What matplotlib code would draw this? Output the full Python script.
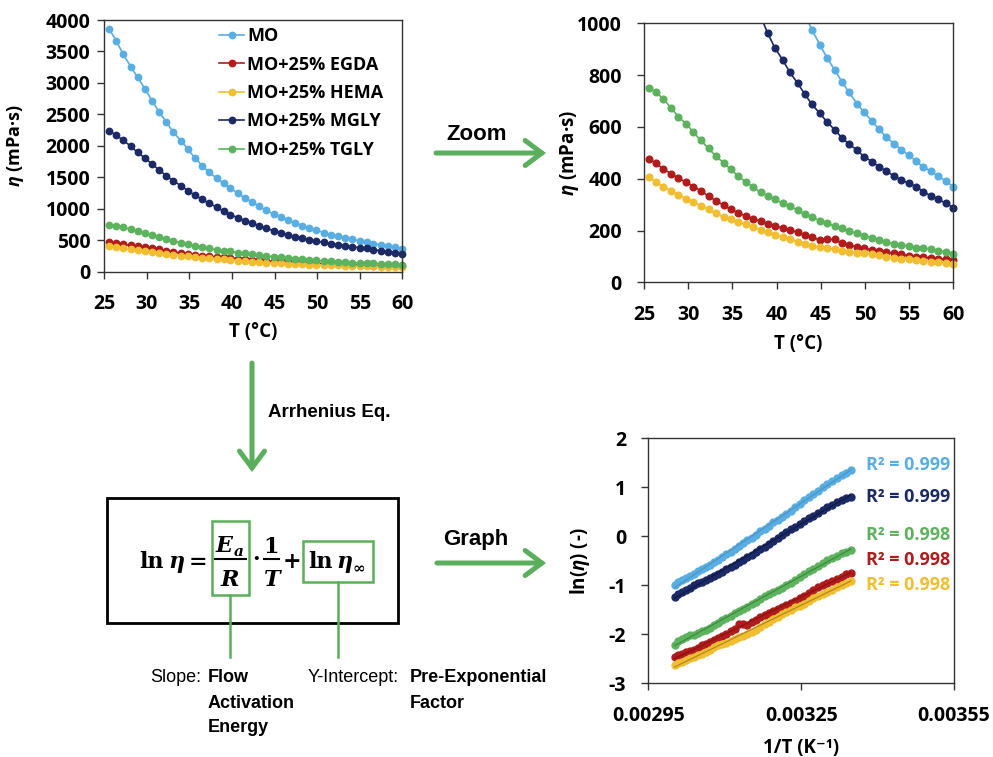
import numpy as np
import matplotlib.pyplot as plt
from matplotlib.patches import Rectangle, FancyArrowPatch
from matplotlib.lines import Line2D

plt.rcParams["font.family"] = ["Open Sans", "DejaVu Sans"]
plt.rcParams["font.weight"] = "bold"
plt.rcParams["axes.labelweight"] = "bold"
plt.rcParams["axes.unicode_minus"] = False
plt.rcParams["mathtext.fontset"] = "custom"
plt.rcParams["mathtext.it"] = "Open Sans:italic:bold"
plt.rcParams["mathtext.rm"] = "Open Sans:bold"

W, H = 993, 757

# temperature (°C) and viscosity (mPa·s)
temp_c = [25.6, 26.4, 27.2, 28.1, 28.9, 29.8, 30.6, 31.4, 32.3, 33.1,
          34.0, 34.8, 35.6, 36.5, 37.3, 38.2, 39.0, 39.8, 40.7, 41.5,
          42.4, 43.2, 44.0, 44.9, 45.7, 46.6, 47.4, 48.2, 49.1, 49.9,
          50.8, 51.6, 52.4, 53.3, 54.1, 55.0, 55.8, 56.6, 57.5, 58.3,
          59.2, 60.0]
mo = [3854, 3668, 3461, 3259, 3091, 2900, 2719, 2544, 2375, 2216,
      2083, 1951, 1812, 1685, 1580, 1485, 1405, 1326, 1246, 1172,
      1103, 1037, 974, 918, 867, 819, 774, 733, 690, 656,
      622, 590, 561, 535, 512, 490, 467, 445, 429, 409,
      391, 368]
egda = [475, 459, 437, 419, 401, 386, 369, 354, 333, 315,
        298, 282, 269, 256, 246, 236, 226, 217, 209, 202,
        193, 183, 174, 163, 166, 166, 150, 144, 137, 131,
        125, 121, 116, 112, 108, 103, 99, 97, 94, 90,
        89, 85]
hema = [405, 386, 369, 354, 337, 323, 309, 296, 282, 266,
        253, 243, 234, 224, 213, 203, 194, 184, 175, 166,
        157, 148, 141, 135, 131, 129, 122, 118, 114, 112,
        108, 104, 99, 95, 91, 89, 86, 83, 80, 77,
        76, 72]
mgly = [2236, 2170, 2090, 1995, 1895, 1805, 1710, 1620, 1523, 1444,
        1367, 1287, 1219, 1150, 1086, 1028, 961, 906, 858, 811,
        768, 726, 687, 652, 620, 588, 558, 533, 511, 485,
        466, 446, 430, 410, 395, 382, 369, 350, 333, 320,
        305, 288]
tgly = [749, 733, 707, 672, 639, 611, 579, 549, 517, 488,
        462, 436, 412, 388, 369, 347, 333, 322, 305, 294,
        279, 262, 251, 238, 228, 217, 208, 198, 189, 180,
        172, 163, 154, 148, 145, 140, 134, 134, 127, 122,
        118, 109]

series_names = ["MO", "MO+25% EGDA", "MO+25% HEMA", "MO+25% MGLY", "MO+25% TGLY"]
series_values = [mo, egda, hema, mgly, tgly]
series_colors = ["#58aee2", "#b01b1b", "#f1bd31", "#1b2a66", "#5cb25d"]
trend_colors = ["#4a95c4", "#8c1212", "#b08a1c", "#101a45", "#3f8a40"]

# R² labels in the order they are stacked on the graph
r2_order = [0, 3, 4, 1, 2]
r2_labels = ["R² = 0.999", "R² = 0.999", "R² = 0.998", "R² = 0.998", "R² = 0.998"]

inv_ticks = [0.00295, 0.00325, 0.00355]
inv_ticklabels = ["0.00295", "0.00325", "0.00355"]

GREEN = "#5bae5b"
EDGE = "#333333"

fig = plt.figure(figsize=(W / 100, H / 100), dpi=100)


def px_axes(x0, y0, x1, y1):
    return fig.add_axes([x0 / W, 1 - y1 / H, (x1 - x0) / W, (y1 - y0) / H])


def ftext(x, y, s, **kw):
    return fig.text(x / W, 1 - y / H, s, **kw)


def fpt(x, y):
    return (x / W, 1 - y / H)


def style(ax, ypad, xpad=11):
    for s in ax.spines.values():
        s.set_color(EDGE)
        s.set_linewidth(1.0)
    ax.tick_params(direction="out", length=5, width=1, color=EDGE, labelsize=14)
    ax.tick_params(axis="y", pad=ypad)
    ax.tick_params(axis="x", pad=xpad)


t = np.array(temp_c)

# ---- top-left: full range
ax1 = px_axes(104.3, 20, 402.3, 271.7)
for name, vals, col in zip(series_names, series_values, series_colors):
    ax1.plot(t, vals, "-o", color=col, lw=1.2, ms=4.6, label=name, clip_on=False)
ax1.set_xlim(25, 60)
ax1.set_ylim(0, 4000)
ax1.set_xticks(range(25, 61, 5))
ax1.set_yticks(range(0, 4001, 500))
style(ax1, ypad=5)
ax1.set_xlabel("T (°C)", fontsize=13.5)
ax1.set_ylabel(r"$\eta$ (mPa·s)", fontsize=13)
ax1.xaxis.set_label_coords(0.5, -0.20)
ax1.yaxis.set_label_coords(-0.262, 0.5)
ax1.legend(loc="upper left", bbox_to_anchor=(0.385, 0.972), frameon=False,
           fontsize=13, handlelength=1.4, handletextpad=0.15, labelspacing=0.58,
           borderpad=0, borderaxespad=0)

# ---- top-right: zoomed
ax2 = px_axes(644, 23.3, 953.3, 282.3)
clip = Rectangle((-0.05, -0.05), 1.1, 1.05, transform=ax2.transAxes, visible=False)
ax2.add_patch(clip)
for vals, col in zip(series_values, series_colors):
    ln, = ax2.plot(t, vals, "-o", color=col, lw=1.2, ms=4.8)
    ln.set_clip_path(clip)
ax2.set_xlim(25, 60)
ax2.set_ylim(0, 1000)
ax2.set_xticks(range(25, 61, 5))
ax2.set_yticks(range(0, 1001, 200))
style(ax2, ypad=11)
ax2.set_xlabel("T (°C)", fontsize=13.5)
ax2.set_ylabel(r"$\eta$ (mPa·s)", fontsize=13.5)
ax2.xaxis.set_label_coords(0.5, -0.20)
ax2.yaxis.set_label_coords(-0.205, 0.5)

# ---- bottom-right: Arrhenius plot
ax3 = px_axes(648.3, 438.3, 954, 683.3)
inv_t = 1.0 / (t + 273.15)
for vals, col, tcol in zip(series_values, series_colors, trend_colors):
    ln_eta = np.log(np.array(vals) / 1000.0)
    ax3.plot(inv_t, ln_eta, "o", color=col, ms=5)
    k, b = np.polyfit(inv_t, ln_eta, 1)
    ax3.plot(inv_t, k * inv_t + b, "-", color=tcol, lw=0.9)
ax3.set_xlim(0.00295, 0.00355)
ax3.set_ylim(-3, 2)
ax3.set_xticks(inv_ticks)
ax3.set_xticklabels(inv_ticklabels)
ax3.set_yticks(range(-3, 3))
style(ax3, ypad=11)
ax3.set_xlabel("1/T (K⁻¹)", fontsize=13.5)
ax3.set_ylabel(r"ln($\eta$) (-)", fontsize=13.5)
ax3.xaxis.set_label_coords(0.5, -0.225)
ax3.yaxis.set_label_coords(-0.185, 0.5)
for i, (idx, lab) in enumerate(zip(r2_order, r2_labels)):
    ypx = [465, 497, 535, 560, 585][i]
    ax3.text(0.712, (683.3 - ypx) / 245.0, lab, transform=ax3.transAxes,
             color=series_colors[idx], fontsize=13, va="center", ha="left")

# ---- arrows and captions
for (x0, y0), (x1, y1) in [((436, 153), (546, 153)), ((252, 363), (252, 472)),
                           ((437, 563), (546, 563))]:
    fig.patches.append(FancyArrowPatch(fpt(x0, y0), fpt(x1, y1), transform=fig.transFigure,
                                       arrowstyle="->,head_length=0.6,head_width=0.45",
                                       mutation_scale=20, lw=3.6, color=GREEN,
                                       shrinkA=0, shrinkB=0, joinstyle="miter"))

sans = ["Liberation Sans", "DejaVu Sans"]
ftext(477, 134, "Zoom", family=sans, weight="bold", size=16, ha="center", va="center")
ftext(476, 539, "Graph", family=sans, weight="bold", size=16, ha="center", va="center")
ftext(268, 412, "Arrhenius Eq.", family=sans, weight="bold", size=13.5, ha="left", va="center")

# ---- equation box
fig.patches.append(Rectangle(fpt(107, 623), (398 - 107) / W, (623 - 498) / H,
                             transform=fig.transFigure, fill=False, lw=2, ec="black"))
fig.patches.append(Rectangle(fpt(211.7, 595), (249.3 - 211.7) / W, (595 - 520.7) / H,
                             transform=fig.transFigure, fill=False, lw=1.8, ec=GREEN))
fig.patches.append(Rectangle(fpt(303.3, 581.7), (373.3 - 303.3) / W, (581.7 - 541) / H,
                             transform=fig.transFigure, fill=False, lw=1.8, ec=GREEN))
fig.lines.append(Line2D([230 / W, 230 / W], [1 - 595 / H, 1 - 657 / H],
                        transform=fig.transFigure, color=GREEN, lw=1.8))
fig.lines.append(Line2D([338 / W, 338 / W], [1 - 581.7 / H, 1 - 657 / H],
                        transform=fig.transFigure, color=GREEN, lw=1.8))
fig.lines.append(Line2D([215 / W, 246 / W], [1 - 559 / H, 1 - 559 / H],
                        transform=fig.transFigure, color="black", lw=1.5))
fig.lines.append(Line2D([264 / W, 279 / W], [1 - 559 / H, 1 - 559 / H],
                        transform=fig.transFigure, color="black", lw=1.5))

serif = dict(family="DejaVu Serif", weight="bold", va="baseline")
ftext(139, 568, "ln", size=16, ha="left", **serif)
ftext(168, 568, "η", size=16, ha="left", style="italic", **serif)
ftext(198, 568, "=", size=16, ha="center", **serif)
ftext(216, 551.7, "E", size=16, ha="left", style="italic", **serif)
ftext(234, 556, "a", size=11, ha="left", style="italic", **serif)
ftext(230, 586, "R", size=16, ha="center", style="italic", **serif)
ftext(256, 566, "·", size=16, ha="center", **serif)
ftext(271, 552.7, "1", size=16, ha="center", **serif)
ftext(272, 586, "T", size=16, ha="center", style="italic", **serif)
ftext(292, 568, "+", size=16, ha="center", **serif)
ftext(308, 568, "ln", size=16, ha="left", **serif)
ftext(336, 568, "η", size=16, ha="left", style="italic", **serif)
ftext(352, 573, "∞", size=11, ha="left", **serif)

# ---- annotations below the box
ftext(150, 677, "Slope:", family=sans, weight="normal", size=13, ha="left", va="center")
ftext(208, 677, "Flow", family=sans, weight="bold", size=13, ha="left", va="center")
ftext(208, 703, "Activation", family=sans, weight="bold", size=13, ha="left", va="center")
ftext(208, 728, "Energy", family=sans, weight="bold", size=13, ha="left", va="center")
ftext(308, 677, "Y-Intercept:", family=sans, weight="normal", size=13, ha="left", va="center")
ftext(410, 677, "Pre-Exponential", family=sans, weight="bold", size=13, ha="left", va="center")
ftext(410, 703, "Factor", family=sans, weight="bold", size=13, ha="left", va="center")

fig.savefig("out.png", dpi=100)
plt.close(fig)
